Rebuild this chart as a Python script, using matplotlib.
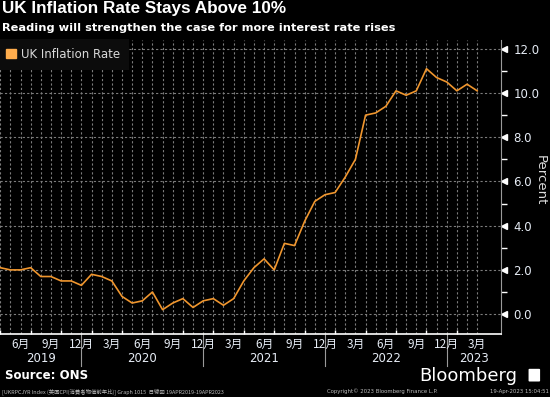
import numpy as np
import matplotlib
matplotlib.use('Agg')
import matplotlib.pyplot as plt
from matplotlib.patches import Patch, FancyBboxPatch

# UK CPI y/y, Apr 2019 .. Mar 2023
months = ['2019-04', '2019-05', '2019-06', '2019-07', '2019-08', '2019-09', '2019-10', '2019-11', '2019-12',
          '2020-01', '2020-02', '2020-03', '2020-04', '2020-05', '2020-06', '2020-07', '2020-08', '2020-09',
          '2020-10', '2020-11', '2020-12',
          '2021-01', '2021-02', '2021-03', '2021-04', '2021-05', '2021-06', '2021-07', '2021-08', '2021-09',
          '2021-10', '2021-11', '2021-12',
          '2022-01', '2022-02', '2022-03', '2022-04', '2022-05', '2022-06', '2022-07', '2022-08', '2022-09',
          '2022-10', '2022-11', '2022-12',
          '2023-01', '2023-02', '2023-03']
cpi = [2.1, 2.0, 2.0, 2.1, 1.7, 1.7, 1.5, 1.5, 1.3,
       1.8, 1.7, 1.5, 0.8, 0.5, 0.6, 1.0, 0.2, 0.5, 0.7, 0.3, 0.6,
       0.7, 0.4, 0.7, 1.5, 2.1, 2.5, 2.0, 3.2, 3.1, 4.2, 5.1, 5.4,
       5.5, 6.2, 7.0, 9.0, 9.1, 9.4, 10.1, 9.9, 10.1, 11.1, 10.7, 10.5,
       10.1, 10.4, 10.1]
yticks = [0, 2, 4, 6, 8, 10, 12]
years = ['2019', '2020', '2021', '2022', '2023']

orange = '#f0962e'
txt = '#e6ecf5'
cjk = ['Noto Sans CJK JP', 'DejaVu Sans']

x = np.arange(len(cpi))
mnum = [int(m[5:]) for m in months]

fig = plt.figure(figsize=(5.5, 3.97), dpi=100, facecolor='black')
ax = fig.add_axes([0.0, 0.1587, 0.911, 0.7406])
ax.set_facecolor('black')
ax.plot(x, cpi, color=orange, lw=1.2, zorder=3)
ax.set_xlim(-0.02, 49.35)
ax.set_ylim(-0.9, 12.4)

# grid
for xi in x:
    ax.axvline(xi, color='#7c7c7c', lw=0.8, ls=(0, (2, 2)), zorder=1)
for yv in yticks:
    ax.axhline(yv, color='#7c7c7c', lw=0.8, ls=(0, (2, 2)), zorder=1)

# y axis on right
ax.yaxis.tick_right()
ax.set_yticks(yticks)
ax.set_yticklabels(['%.1f' % v for v in yticks], color=txt, fontsize=8.5,
                   family='DejaVu Sans')
ax.set_yticks(np.arange(1, 12, 2), minor=True)
ax.tick_params(axis='y', which='major', length=0, pad=9)
ax.tick_params(axis='y', which='minor', length=4, color='white', width=1, direction='out')
ax.plot([1.006] * len(yticks), yticks, marker='<', ms=4.5, color='white', lw=0,
        transform=ax.get_yaxis_transform(), clip_on=False)
fig.text(0.983, 0.547, 'Percent', rotation=270, color='#dddddd', fontsize=9.5,
         family='DejaVu Sans', ha='center', va='center')

for s in ['top', 'left']:
    ax.spines[s].set_visible(False)
ax.spines['right'].set_color('#9a9a9a')
ax.spines['bottom'].set_color('white')
ax.spines['bottom'].set_linewidth(1.2)

# x axis: small ticks at quarter starts, labels at quarter ends
qstart = [i for i in x if mnum[i] in (1, 4, 7, 10)]
ax.set_xticks(qstart)
ax.set_xticklabels([])
ax.tick_params(axis='x', length=3, direction='in', color='white', width=1)

trans = ax.get_xaxis_transform()
for i in x:
    if mnum[i] % 3 == 0:
        ax.text(i, -0.012, '%d月' % mnum[i], transform=trans, ha='center', va='top',
                color=txt, fontsize=8.5, family=cjk)

dec = [i for i in x if mnum[i] == 12]
edges = [-0.02] + dec + [49.35]
for d in dec:
    ax.plot([d, d], [0, -0.11], transform=trans, color='#9a9a9a', lw=0.8, clip_on=False)
for k, yr in enumerate(years):
    ax.text((edges[k] + edges[k + 1]) / 2, -0.06, yr, transform=trans, ha='center', va='top',
            color=txt, fontsize=8.5, family='DejaVu Sans')

leg = ax.legend(handles=[Patch(color='#ffad4d', label='UK Inflation Rate')], loc='upper left',
                bbox_to_anchor=(0.0, 0.995), frameon=True, fontsize=8.5, handlelength=0.8,
                handleheight=0.8, handletextpad=0.4, borderpad=0.55, borderaxespad=0)
leg.get_frame().set_facecolor('#0c0c0c')
leg.get_frame().set_edgecolor('none')
leg.get_frame().set_alpha(1)
leg.get_frame().set_boxstyle('square', pad=0.2)
for t in leg.get_texts():
    t.set_color('#d8d8d8')

# titles
fig.text(0.004, 0.998, 'UK Inflation Rate Stays Above 10%', color='white', fontsize=12.3,
         fontweight='bold', family='Liberation Sans', va='top', ha='left')
fig.text(0.004, 0.942, 'Reading will strengthen the case for more interest rate rises', color='white',
         fontsize=8.2, fontweight='bold', family='DejaVu Sans', va='top', ha='left')

# footer
fig.text(0.009, 0.055, 'Source: ONS', color='white', fontsize=8.5, fontweight='bold',
         family='DejaVu Sans', va='center', ha='left')
fig.text(0.94, 0.052, 'Bloomberg', color='white', fontsize=13, fontweight='medium',
         family='DejaVu Sans', va='center', ha='right')
icon = FancyBboxPatch((0.963, 0.041), 0.017, 0.028, boxstyle='round,pad=0.002',
                      transform=fig.transFigure, facecolor='white', edgecolor='none')
fig.patches.append(icon)
fig.text(0.004, 0.014, '[UKRPCJYR Index (英国CPI(消費者物価前年比)] Graph 1015  日線図 19APR2019-19APR2023',
         color='#bbbbbb', fontsize=3.9, family=cjk, va='center', ha='left')
fig.text(0.695, 0.014, 'Copyright© 2023 Bloomberg Finance L.P.', color='#bbbbbb', fontsize=3.9,
         family='DejaVu Sans', va='center', ha='center')
fig.text(0.998, 0.014, '19-Apr-2023 15:04:51', color='#bbbbbb', fontsize=3.9,
         family='DejaVu Sans', va='center', ha='right')

fig.savefig('out.png', dpi=100, facecolor='black')
